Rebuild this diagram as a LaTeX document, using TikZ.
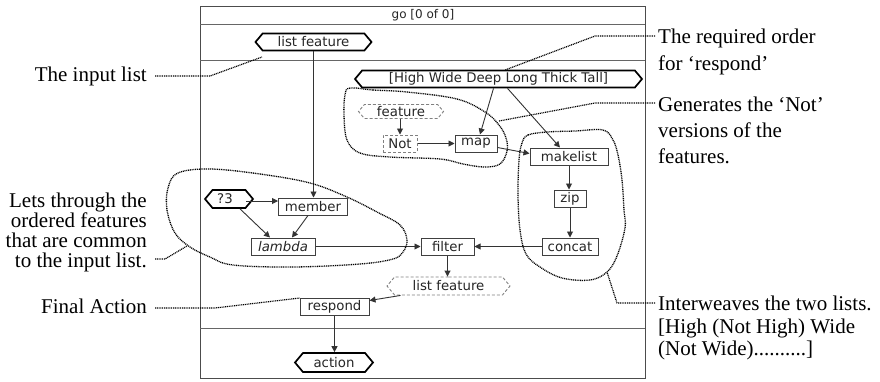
\documentclass[tikz,border=0pt]{standalone}
\usepackage{fontspec}
\setmainfont{Liberation Serif}
\newfontfamily\gen{DejaVu Sans}
\usetikzlibrary{shapes.symbols,arrows.meta,calc}
\begin{document}
\begin{tikzpicture}[x=1pt,y=-1pt,
 nfont/.style={font=\gen\fontsize{13.3}{14}\selectfont},
 box/.style={draw=black!75, line width=1pt, nfont, text=black!85, inner sep=0pt, minimum height=17pt, fill=white},
 hexb/.style={signal, signal to=west and east, signal pointer angle=100, draw=black, line width=1.7pt, nfont, text=black!85, inner sep=0pt, minimum height=17pt, fill=white},
 dhex/.style={hexb, draw=black!50, line width=0.9pt, densely dashed},
 dbox/.style={box, draw=black!50, densely dashed},
 arr/.style={-{Triangle[length=6pt,width=6pt]}, line width=0.9pt, draw=black!80},
 blob/.style={dash pattern=on 1pt off 0.8pt, line width=1.3pt},
 lead/.style={dash pattern=on 1pt off 0.8pt, line width=1.2pt},
 ann/.style={font=\fontsize{21}{20}\selectfont, inner sep=0pt}
]
\useasboundingbox (0,0) rectangle (880,381);
% frame
\draw[black!70, line width=0.9pt] (200,6) rectangle (645,378);
\draw[black!60, line width=0.9pt] (200,24) -- (645,24) (200,60) -- (645,60) (200,328) -- (645,328);
\node[font=\gen\fontsize{12}{13}\selectfont, text=black!85] (title) at (423,15) {go [0 of 0]};

% nodes
\node[hexb, minimum width=116pt] (listtop) at (313.5,42) {list feature};
\node[hexb, minimum width=287pt] (high) at (498.5,79) {[High Wide Deep Long Thick Tall]};
\node[dhex, minimum width=85pt, minimum height=14pt] (feature) at (401,111.5) {feature};
\node[dbox, minimum width=34pt] (notb) at (400,143.5) {Not};
\node[box, minimum width=42pt] (map) at (476,143.5) {map};
\node[box, minimum width=78pt] (makelist) at (569,156.5) {makelist};
\node[box, minimum width=32pt] (zip) at (570,198.5) {zip};
\node[box, minimum width=56pt] (concat) at (570,246.5) {concat};
\node[box, minimum width=53pt] (filter) at (447.5,246.5) {filter};
\node[box, minimum width=69pt] (member) at (313,206.5) {member};
\node[hexb, minimum width=48pt, minimum height=18pt] (q3) at (229,199) {?3\hspace*{8pt}};
\node[box, minimum width=64pt, font=\gen\itshape\fontsize{13.3}{14}\selectfont] (lambda) at (283,246.5) {lambda};
\node[dhex, minimum width=123pt, minimum height=18pt] (lf2) at (448.5,286) {list feature};
\node[box, minimum width=69pt] (respond) at (334.5,306.5) {respond};
\node[hexb, minimum width=78pt, minimum height=19pt] (action) at (334,362.5) {action};

% connectors
\draw[arr] (listtop.south) -- (listtop.south |- member.north);
\coordinate (q3o) at ($(q3.east)+(-8,2)$);
\draw[arr] (q3o) -- (q3o -| member.west);
\draw[arr] ($(q3.south)+(11,0)$) -- ($(lambda.north)+(-13,0)$);
\draw[arr] ($(member.south)+(-5,0)$) -- ($(lambda.north)+(9,0)$);
\draw[arr] (lambda.east) -- (filter.west);
\draw[arr] (concat.west) -- (filter.east);
\draw[arr] (makelist.south) -- (makelist.south |- zip.north);
\draw[arr] (zip.south) -- (zip.south |- concat.north);
\draw[arr] (filter.south) -- (filter.south |- lf2.north);
\draw[arr] ($(lf2.south)+(-48,0)$) -- ($(respond.east)+(0,-6)$);
\draw[arr] (respond.south) -- (respond.south |- action.north);
\draw[arr] ($(high.south)+(-5,0)$) -- ($(map.north)+(4,0)$);
\draw[arr] ($(high.south)+(9,0)$) -- ($(makelist.north)+(-9,0)$);
\draw[arr] (feature.south -| notb.north) -- (notb.north);
\draw[arr] (notb.east) -- (map.west);
\draw[arr] ($(map.east)+(0,4)$) -- ($(makelist.west)+(0,-3)$);

% blobs
\draw[blob] plot[smooth cycle, tension=0.6] coordinates {(350,88) (373,90) (407,92) (457,99) (485,112) (499,125) (506,138) (507,151) (500,164) (484,167) (463,164) (440,159) (390,157) (360,153) (347,140) (344,115) (345,95)};
\draw[blob] plot[smooth cycle, tension=0.6] coordinates {(522,143) (528,135) (547,132) (575,131) (603,130) (613,140) (618,155) (622,180) (624,210) (625,228) (617,256) (607,272) (590,280) (562,278) (540,267) (526,254) (520,230) (518,195) (519,160)};
\draw[blob] plot[smooth cycle, tension=0.6] coordinates {(178,173) (210,169) (260,174) (310,183) (347,197) (377,212) (400,225) (407,240) (403,252) (393,259) (360,264) (293,267) (233,265) (210,257) (190,247) (175,233) (167,210) (168,188)};

% annotations
\node[ann, anchor=base east] (t1) at (147,81) {The input list};
\node[ann, anchor=north east, align=right, font=\fontsize{21}{20}\selectfont] (t2) at (147,193) {Lets through the\\ordered features\\that are common\\to the input list.};
\node[ann, anchor=base east] (t3) at (147,313) {Final Action};
\node[ann, anchor=north west, align=left, font=\fontsize{21}{27}\selectfont] (t4) at (658,29) {The required order\\for ‘respond’};
\node[ann, anchor=north west, align=left, font=\fontsize{21}{26}\selectfont] (t5) at (658,97) {Generates the ‘Not’\\versions of the\\features.};
\node[ann, anchor=north west, align=left, font=\fontsize{21}{22.5}\selectfont] (t6) at (658,296) {Interweaves the two lists.\\{[}High (Not High) Wide\\(Not Wide)..........{]}};

% leaders
\coordinate (e1) at (262,57);
\coordinate (e2) at (187,246);
\coordinate (e3) at (300,298);
\coordinate (e4) at (505,70);
\coordinate (e5) at (499,121);
\coordinate (e6) at (607,272);
\draw[lead] (155,76) -- (210,76) -- (e1);
\draw[lead] (155,259) -- (165,259) -- (e2);
\draw[lead] (155,308) -- (215,308) -- (e3);
\draw[lead] (655,36) -- (595,36) -- (e4);
\draw[lead] (655,103) -- (595,103) -- (e5);
\draw[lead] (655,303) -- (617,303) -- (e6);
\end{tikzpicture}
\end{document}
